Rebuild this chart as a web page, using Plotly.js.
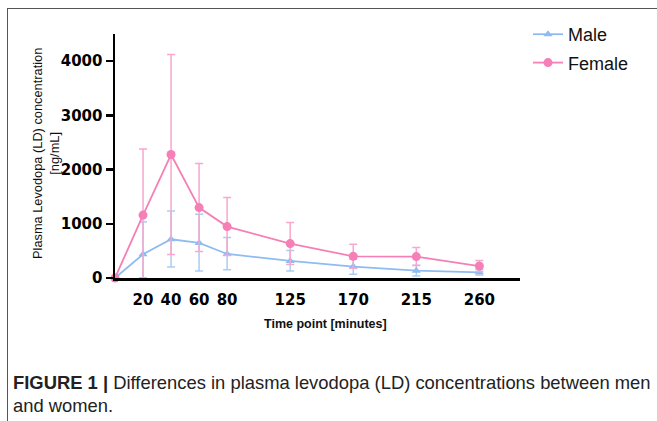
<!DOCTYPE html>
<html>
<head>
<meta charset="utf-8">
<script src="https://cdn.plot.ly/plotly-3.0.1.min.js"></script>
<style>
  html, body { margin: 0; padding: 0; background: #fff; }
  #wrap { position: relative; width: 657px; height: 421px; overflow: hidden; }
  #frame { position: absolute; left: 7px; top: 8px; width: 700px; height: 500px;
           border-top: 1.5px solid #555; border-left: 1.5px solid #555; pointer-events: none; z-index: 5; }
  #chart { position: absolute; left: 0; top: 0; width: 657px; height: 421px; }
</style>
</head>
<body>
<div id="wrap">
  <div id="chart"></div>
  <div id="frame"></div>
</div>
<script>
// ---- Data ----
const timePoints   = [0, 20, 40, 60, 80, 125, 170, 215, 260];
const maleMean     = [0, 437, 714, 646, 443, 314, 210, 136, 105];
const maleSDup     = [0, 595, 522, 530, 305, 195, 135, 100, 50];
const maleSDdown   = [0, 437, 512, 515, 290, 185, 140, 100, 50];
const femaleMean   = [0, 1160, 2277, 1299, 948, 635, 400, 395, 221];
const femaleSDup   = [0, 1220, 1845, 812, 535, 387, 222, 166, 100];
const femaleSDdown = [0, 1160, 1845, 812, 535, 387, 222, 166, 100];
const xTicks = [20, 40, 60, 80, 125, 170, 215, 260];
const yTicks = [0, 1000, 2000, 3000, 4000];
const seriesNames = ['Male', 'Female'];
const yTitle = 'Plasma Levodopa (LD) concentration<br>[ng/mL]';
const xTitle = 'Time point [minutes]';
const captionBold = 'FIGURE 1 |';
const captionLine1 = ' Differences in plasma levodopa (LD) concentrations between men';
const captionLine2 = 'and women.';

// ---- Layout geometry (pixels) ----
const W = 657, H = 421;
const M = { l: 115, r: 137, t: 34, b: 143 };
const plotW = W - M.l - M.r, plotH = H - M.t - M.b;
const px = x => (x - M.l) / plotW;             // pixel x -> paper x
const py = y => (H - M.b - y) / plotH;          // pixel y -> paper y

const pink = '#f57fb6', pinkErr = '#f9a7cc';
const blue = '#8ebcf2', blueErr = '#abcdf5';

const traces = [
  {
    x: timePoints, y: maleMean, name: seriesNames[0], type: 'scatter', mode: 'lines+markers',
    line: { color: blue, width: 1.8 },
    marker: { symbol: 'triangle-up', size: 8, color: blue },
    error_y: { type: 'data', symmetric: false, array: maleSDup, arrayminus: maleSDdown,
               color: blueErr, thickness: 1.5, width: 4 },
    cliponaxis: false
  },
  {
    x: timePoints, y: femaleMean, name: seriesNames[1], type: 'scatter', mode: 'lines+markers',
    line: { color: pink, width: 1.8 },
    marker: { symbol: 'circle', size: 9, color: pink },
    error_y: { type: 'data', symmetric: false, array: femaleSDup, arrayminus: femaleSDdown,
               color: pinkErr, thickness: 1.5, width: 4 },
    cliponaxis: false
  }
];

const tickFont = { family: 'DejaVu Sans', size: 15, color: '#000', weight: 'bold' };

const layout = {
  width: W, height: H,
  margin: M,
  paper_bgcolor: '#fff', plot_bgcolor: '#fff',
  showlegend: true,
  legend: {
    x: px(528), y: py(16), xanchor: 'left', yanchor: 'top',
    font: { family: 'Liberation Sans, Arial, sans-serif', size: 18, color: '#111' },
    bgcolor: 'rgba(0,0,0,0)', tracegroupgap: 2, traceorder: 'grouped'
  },
  xaxis: {
    range: [0, 289], tickvals: xTicks, ticktext: xTicks.map(String),
    showgrid: false, zeroline: false, showline: true, linecolor: '#000', linewidth: 2.5,
    ticks: 'outside', ticklen: 6, tickcolor: 'rgba(0,0,0,0)',
    tickfont: tickFont
  },
  yaxis: {
    range: [0, 4500], tickvals: yTicks, ticktext: yTicks.map(String),
    showgrid: false, zeroline: false, showline: true, linecolor: '#000', linewidth: 2.5,
    ticks: 'outside', ticklen: 7, tickwidth: 2.5, tickcolor: '#000',
    tickfont: tickFont
  },
  annotations: [
    { text: yTitle, xref: 'paper', yref: 'paper', x: px(46), y: py(154),
      xanchor: 'center', yanchor: 'middle', textangle: -90, showarrow: false,
      font: { family: 'Liberation Sans, Arial, sans-serif', size: 12.8, color: '#111' } },
    { text: '<b>' + xTitle + '</b>', xref: 'paper', yref: 'paper', x: px(325), y: py(324),
      xanchor: 'center', yanchor: 'middle', showarrow: false,
      font: { family: 'Liberation Sans, Arial, sans-serif', size: 12.5, color: '#111' } },
    { text: '<b>' + captionBold + '</b>' + captionLine1, xref: 'paper', yref: 'paper',
      x: px(11), y: py(382), xanchor: 'left', yanchor: 'middle', showarrow: false, align: 'left',
      font: { family: 'Liberation Sans, Arial, sans-serif', size: 18.4, color: '#222' } },
    { text: captionLine2, xref: 'paper', yref: 'paper',
      x: px(11), y: py(405), xanchor: 'left', yanchor: 'middle', showarrow: false, align: 'left',
      font: { family: 'Liberation Sans, Arial, sans-serif', size: 18.4, color: '#222' } }
  ]
};

// give each trace its own legend group so the group gap spaces the entries
traces.forEach((t, i) => { t.legendgroup = 'g' + i; });

Plotly.newPlot('chart', traces, layout, { displayModeBar: false, staticPlot: true });
</script>
</body>
</html>
